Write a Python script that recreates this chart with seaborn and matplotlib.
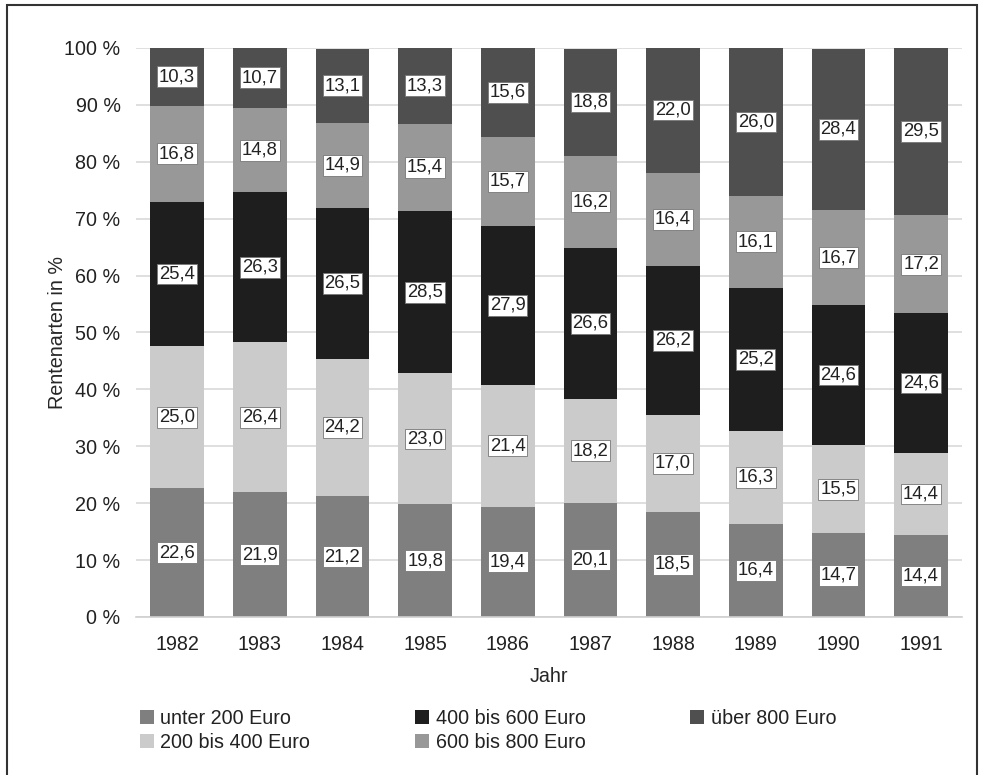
import matplotlib
matplotlib.use("Agg")
import matplotlib.pyplot as plt
from matplotlib.patches import Patch, Rectangle
import numpy as np
import pandas as pd
import seaborn as sns

# Anteil der Rentenarten je Jahr (Prozent)
years = ["1982", "1983", "1984", "1985", "1986", "1987", "1988", "1989", "1990", "1991"]
unter_200 = [22.6, 21.9, 21.2, 19.8, 19.4, 20.1, 18.5, 16.4, 14.7, 14.4]
bis_400 = [25.0, 26.4, 24.2, 23.0, 21.4, 18.2, 17.0, 16.3, 15.5, 14.4]
bis_600 = [25.4, 26.3, 26.5, 28.5, 27.9, 26.6, 26.2, 25.2, 24.6, 24.6]
bis_800 = [16.8, 14.8, 14.9, 15.4, 15.7, 16.2, 16.4, 16.1, 16.7, 17.2]
ueber_800 = [10.3, 10.7, 13.1, 13.3, 15.6, 18.8, 22.0, 26.0, 28.4, 29.5]

series_names = ["unter 200 Euro", "200 bis 400 Euro", "400 bis 600 Euro",
                "600 bis 800 Euro", "über 800 Euro"]
series_values = [unter_200, bis_400, bis_600, bis_800, ueber_800]
series_colors = ["#7f7f7f", "#cbcbcb", "#1e1e1e", "#989898", "#4f4f4f"]
y_ticks = [0, 10, 20, 30, 40, 50, 60, 70, 80, 90, 100]

sns.set_style("white")
plt.rcParams["font.family"] = ["Liberation Sans", "DejaVu Sans"]
plt.rcParams["text.color"] = "#222222"

FS = 14.2

data = pd.DataFrame({"Jahr": years})
for name, vals in zip(series_names, series_values):
    data[name] = vals
cum = data[series_names].cumsum(axis=1)

fig = plt.figure(figsize=(9.84, 7.75), dpi=100)
ax = fig.add_axes([0.138, 0.2039, 0.840, 0.7342])

# stacked bars: draw cumulative totals from the top layer down
for name, color in reversed(list(zip(series_names, series_colors))):
    sns.barplot(data=cum.assign(Jahr=years), x="Jahr", y=name, color=color,
                saturation=1, width=0.65, errorbar=None, linewidth=0,
                ax=ax, zorder=2)

# value labels in the middle of each segment
for i, name in enumerate(series_names):
    lower = cum[name] - data[name]
    for j, (v, lo) in enumerate(zip(data[name], lower)):
        ax.text(j, lo + v / 2, f"{v:.1f}".replace(".", ","), ha="center", va="center",
                fontsize=13.3, color="#222222", zorder=5,
                bbox=dict(boxstyle="square,pad=0.1", facecolor="white",
                          edgecolor="#777777", linewidth=0.6))

ax.set_ylim(0, 100)
ax.set_xlim(-0.5, len(years) - 0.5)
ax.set_yticks(y_ticks)
ax.set_yticklabels([f"{t} %" for t in y_ticks])
ax.yaxis.grid(True, color="#d9d9d9", linewidth=1.2, zorder=0)
ax.set_axisbelow(True)
for side in ["left", "right", "top"]:
    ax.spines[side].set_visible(False)
ax.spines["bottom"].set_color("#d0d0d0")
ax.spines["bottom"].set_linewidth(1.2)
ax.tick_params(axis="both", length=0, labelsize=FS, colors="#222222")
ax.tick_params(axis="y", pad=11)
ax.tick_params(axis="x", pad=13)
ax.set_xlabel("Jahr", fontsize=FS, labelpad=9)
ax.set_ylabel("Rentenarten in %", fontsize=FS, labelpad=-2)

handles = [Patch(facecolor=c, edgecolor="none") for c in series_colors]
fig.legend(handles, series_names, ncol=3, loc="upper left",
           bbox_to_anchor=(0.142, 0.085), frameon=False, fontsize=FS,
           handlelength=0.7, handleheight=0.7, handletextpad=0.35,
           columnspacing=5.3, labelspacing=0.25, borderaxespad=0, borderpad=0)

# thin frame around the figure
fig.patches.append(Rectangle((7 / 984, -0.01), (977 - 7) / 984, 1 - 5 / 775 + 0.01,
                             transform=fig.transFigure, fill=False,
                             edgecolor="#333333", linewidth=1.5))

fig.savefig("out.png", dpi=100)
